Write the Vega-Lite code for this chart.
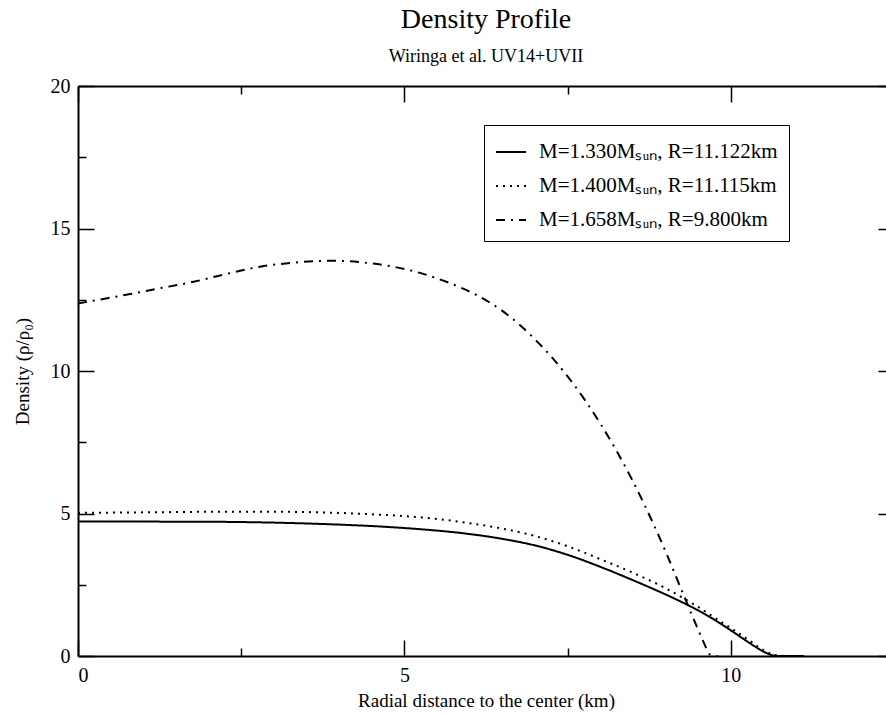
{
  "$schema": "https://vega.github.io/schema/vega-lite/v6.json",
  "autosize": "none",
  "width": 816,
  "height": 570,
  "padding": {"left": 78, "top": 86, "right": 0, "bottom": 59},
  "background": "white",
  "config": {
    "view": {"stroke": null},
    "font": "Liberation Serif",
    "axis": {
      "domainColor": "black",
      "domainWidth": 2,
      "tickColor": "black",
      "tickWidth": 1.5,
      "grid": false,
      "labelFont": "Liberation Serif",
      "labelFontSize": 20,
      "labelColor": "black",
      "titleFont": "Liberation Serif",
      "titleFontSize": 19,
      "titleFontWeight": "normal",
      "titleColor": "black"
    }
  },
  "title": {
    "text": "Density Profile",
    "subtitle": "Wiringa et al. UV14+UVII",
    "frame": "group",
    "anchor": "middle",
    "font": "Liberation Serif",
    "fontSize": 28,
    "fontWeight": "normal",
    "subtitleFont": "Liberation Serif",
    "subtitleFontSize": 18,
    "subtitlePadding": 14,
    "offset": 10,
    "color": "black",
    "subtitleColor": "black"
  },
  "data": {
    "values": [
      {"model": "M=1.330Mₛᵤₙ, R=11.122km", "r": 0, "rho": 4.72},
      {"model": "M=1.330Mₛᵤₙ, R=11.122km", "r": 0.5, "rho": 4.72},
      {"model": "M=1.330Mₛᵤₙ, R=11.122km", "r": 1, "rho": 4.72},
      {"model": "M=1.330Mₛᵤₙ, R=11.122km", "r": 1.5, "rho": 4.71},
      {"model": "M=1.330Mₛᵤₙ, R=11.122km", "r": 2, "rho": 4.71},
      {"model": "M=1.330Mₛᵤₙ, R=11.122km", "r": 2.5, "rho": 4.70},
      {"model": "M=1.330Mₛᵤₙ, R=11.122km", "r": 3, "rho": 4.68},
      {"model": "M=1.330Mₛᵤₙ, R=11.122km", "r": 3.5, "rho": 4.65},
      {"model": "M=1.330Mₛᵤₙ, R=11.122km", "r": 4, "rho": 4.61},
      {"model": "M=1.330Mₛᵤₙ, R=11.122km", "r": 4.5, "rho": 4.56},
      {"model": "M=1.330Mₛᵤₙ, R=11.122km", "r": 5, "rho": 4.49},
      {"model": "M=1.330Mₛᵤₙ, R=11.122km", "r": 5.5, "rho": 4.40},
      {"model": "M=1.330Mₛᵤₙ, R=11.122km", "r": 6, "rho": 4.28},
      {"model": "M=1.330Mₛᵤₙ, R=11.122km", "r": 6.5, "rho": 4.11},
      {"model": "M=1.330Mₛᵤₙ, R=11.122km", "r": 7, "rho": 3.88},
      {"model": "M=1.330Mₛᵤₙ, R=11.122km", "r": 7.5, "rho": 3.55},
      {"model": "M=1.330Mₛᵤₙ, R=11.122km", "r": 8, "rho": 3.13},
      {"model": "M=1.330Mₛᵤₙ, R=11.122km", "r": 8.5, "rho": 2.66},
      {"model": "M=1.330Mₛᵤₙ, R=11.122km", "r": 9, "rho": 2.16},
      {"model": "M=1.330Mₛᵤₙ, R=11.122km", "r": 9.34, "rho": 1.79},
      {"model": "M=1.330Mₛᵤₙ, R=11.122km", "r": 9.5, "rho": 1.60},
      {"model": "M=1.330Mₛᵤₙ, R=11.122km", "r": 9.75, "rho": 1.27},
      {"model": "M=1.330Mₛᵤₙ, R=11.122km", "r": 10, "rho": 0.90},
      {"model": "M=1.330Mₛᵤₙ, R=11.122km", "r": 10.2, "rho": 0.59},
      {"model": "M=1.330Mₛᵤₙ, R=11.122km", "r": 10.4, "rho": 0.29},
      {"model": "M=1.330Mₛᵤₙ, R=11.122km", "r": 10.55, "rho": 0.10},
      {"model": "M=1.330Mₛᵤₙ, R=11.122km", "r": 10.65, "rho": 0.02},
      {"model": "M=1.330Mₛᵤₙ, R=11.122km", "r": 10.75, "rho": 0.0},
      {"model": "M=1.330Mₛᵤₙ, R=11.122km", "r": 10.9, "rho": 0.0},
      {"model": "M=1.330Mₛᵤₙ, R=11.122km", "r": 11.122, "rho": 0.0},
      {"model": "M=1.400Mₛᵤₙ, R=11.115km", "r": 0, "rho": 5.02},
      {"model": "M=1.400Mₛᵤₙ, R=11.115km", "r": 0.5, "rho": 5.03},
      {"model": "M=1.400Mₛᵤₙ, R=11.115km", "r": 1, "rho": 5.04},
      {"model": "M=1.400Mₛᵤₙ, R=11.115km", "r": 1.5, "rho": 5.05},
      {"model": "M=1.400Mₛᵤₙ, R=11.115km", "r": 2, "rho": 5.06},
      {"model": "M=1.400Mₛᵤₙ, R=11.115km", "r": 2.5, "rho": 5.06},
      {"model": "M=1.400Mₛᵤₙ, R=11.115km", "r": 3, "rho": 5.06},
      {"model": "M=1.400Mₛᵤₙ, R=11.115km", "r": 3.5, "rho": 5.05},
      {"model": "M=1.400Mₛᵤₙ, R=11.115km", "r": 4, "rho": 5.02},
      {"model": "M=1.400Mₛᵤₙ, R=11.115km", "r": 4.5, "rho": 4.97},
      {"model": "M=1.400Mₛᵤₙ, R=11.115km", "r": 5, "rho": 4.91},
      {"model": "M=1.400Mₛᵤₙ, R=11.115km", "r": 5.5, "rho": 4.81},
      {"model": "M=1.400Mₛᵤₙ, R=11.115km", "r": 6, "rho": 4.66},
      {"model": "M=1.400Mₛᵤₙ, R=11.115km", "r": 6.5, "rho": 4.47},
      {"model": "M=1.400Mₛᵤₙ, R=11.115km", "r": 7, "rho": 4.21},
      {"model": "M=1.400Mₛᵤₙ, R=11.115km", "r": 7.5, "rho": 3.85},
      {"model": "M=1.400Mₛᵤₙ, R=11.115km", "r": 8, "rho": 3.40},
      {"model": "M=1.400Mₛᵤₙ, R=11.115km", "r": 8.5, "rho": 2.92},
      {"model": "M=1.400Mₛᵤₙ, R=11.115km", "r": 9, "rho": 2.38},
      {"model": "M=1.400Mₛᵤₙ, R=11.115km", "r": 9.37, "rho": 1.90},
      {"model": "M=1.400Mₛᵤₙ, R=11.115km", "r": 9.5, "rho": 1.72},
      {"model": "M=1.400Mₛᵤₙ, R=11.115km", "r": 9.78, "rho": 1.30},
      {"model": "M=1.400Mₛᵤₙ, R=11.115km", "r": 10, "rho": 0.98},
      {"model": "M=1.400Mₛᵤₙ, R=11.115km", "r": 10.14, "rho": 0.77},
      {"model": "M=1.400Mₛᵤₙ, R=11.115km", "r": 10.3, "rho": 0.52},
      {"model": "M=1.400Mₛᵤₙ, R=11.115km", "r": 10.44, "rho": 0.29},
      {"model": "M=1.400Mₛᵤₙ, R=11.115km", "r": 10.6, "rho": 0.09},
      {"model": "M=1.400Mₛᵤₙ, R=11.115km", "r": 10.75, "rho": 0.01},
      {"model": "M=1.400Mₛᵤₙ, R=11.115km", "r": 10.9, "rho": 0.0},
      {"model": "M=1.400Mₛᵤₙ, R=11.115km", "r": 11.115, "rho": 0.0},
      {"model": "M=1.658Mₛᵤₙ, R=9.800km", "r": 0, "rho": 12.37},
      {"model": "M=1.658Mₛᵤₙ, R=9.800km", "r": 0.39, "rho": 12.53},
      {"model": "M=1.658Mₛᵤₙ, R=9.800km", "r": 0.8, "rho": 12.70},
      {"model": "M=1.658Mₛᵤₙ, R=9.800km", "r": 1.2, "rho": 12.88},
      {"model": "M=1.658Mₛᵤₙ, R=9.800km", "r": 1.77, "rho": 13.13},
      {"model": "M=1.658Mₛᵤₙ, R=9.800km", "r": 2.3, "rho": 13.42},
      {"model": "M=1.658Mₛᵤₙ, R=9.800km", "r": 2.79, "rho": 13.66},
      {"model": "M=1.658Mₛᵤₙ, R=9.800km", "r": 3.3, "rho": 13.80},
      {"model": "M=1.658Mₛᵤₙ, R=9.800km", "r": 3.9, "rho": 13.87},
      {"model": "M=1.658Mₛᵤₙ, R=9.800km", "r": 4.4, "rho": 13.80},
      {"model": "M=1.658Mₛᵤₙ, R=9.800km", "r": 4.83, "rho": 13.66},
      {"model": "M=1.658Mₛᵤₙ, R=9.800km", "r": 5.3, "rho": 13.40},
      {"model": "M=1.658Mₛᵤₙ, R=9.800km", "r": 5.7, "rho": 13.08},
      {"model": "M=1.658Mₛᵤₙ, R=9.800km", "r": 6.1, "rho": 12.67},
      {"model": "M=1.658Mₛᵤₙ, R=9.800km", "r": 6.5, "rho": 12.11},
      {"model": "M=1.658Mₛᵤₙ, R=9.800km", "r": 7, "rho": 11.11},
      {"model": "M=1.658Mₛᵤₙ, R=9.800km", "r": 7.5, "rho": 9.81},
      {"model": "M=1.658Mₛᵤₙ, R=9.800km", "r": 8, "rho": 8.16},
      {"model": "M=1.658Mₛᵤₙ, R=9.800km", "r": 8.48, "rho": 6.22},
      {"model": "M=1.658Mₛᵤₙ, R=9.800km", "r": 8.9, "rho": 4.20},
      {"model": "M=1.658Mₛᵤₙ, R=9.800km", "r": 9.34, "rho": 1.79},
      {"model": "M=1.658Mₛᵤₙ, R=9.800km", "r": 9.5, "rho": 0.92},
      {"model": "M=1.658Mₛᵤₙ, R=9.800km", "r": 9.6, "rho": 0.40},
      {"model": "M=1.658Mₛᵤₙ, R=9.800km", "r": 9.68, "rho": 0.05},
      {"model": "M=1.658Mₛᵤₙ, R=9.800km", "r": 9.8, "rho": 0.0}
    ]
  },
  "layer": [
    {
      "mark": {"type": "line", "color": "black", "strokeWidth": 2, "interpolate": "monotone", "clip": true},
      "encoding": {
        "x": {
          "field": "r", "type": "quantitative",
          "scale": {"domain": [0, 12.5], "nice": false},
          "title": "Radial distance to the center (km)",
          "axis": {
            "orient": "bottom",
            "values": [0, 2.5, 5, 7.5, 10, 12.5],
            "labelExpr": "datum.value % 5 === 0 ? datum.label : ''",
            "tickSize": {"condition": {"test": "datum.value % 5 === 0", "value": -16}, "value": -8},
            "labelPadding": 25,
            "titlePadding": 6
          }
        },
        "y": {
          "field": "rho", "type": "quantitative",
          "scale": {"domain": [0, 20], "nice": false},
          "title": "Density (ρ/ρ₀)",
          "axis": {
            "orient": "left",
            "values": [0, 2.5, 5, 7.5, 10, 12.5, 15, 17.5, 20],
            "labelExpr": "datum.value % 5 === 0 ? datum.label : ''",
            "tickSize": {"condition": {"test": "datum.value % 5 === 0", "value": -16}, "value": -8},
            "labelPadding": 24,
            "titlePadding": 18
          }
        },
        "strokeDash": {
          "field": "model", "type": "nominal",
          "scale": {
            "domain": ["M=1.330Mₛᵤₙ, R=11.122km", "M=1.400Mₛᵤₙ, R=11.115km", "M=1.658Mₛᵤₙ, R=9.800km"],
            "range": [[1, 0], [2, 5], [9, 6, 2, 6]]
          },
          "legend": {
            "title": null,
            "orient": "none",
            "legendX": 406,
            "legendY": 39,
            "direction": "vertical",
            "strokeColor": "black",
            "fillColor": "white",
            "padding": 11,
            "symbolType": "stroke",
            "symbolSize": 900,
            "symbolStrokeWidth": 2,
            "symbolStrokeColor": "black",
            "labelFont": "Liberation Serif",
            "labelFontSize": 21,
            "labelColor": "black",
            "labelOffset": 12,
            "rowPadding": 8,
            "labelLimit": 400
          }
        }
      }
    },
    {
      "mark": {"type": "line", "opacity": 0},
      "encoding": {
        "x": {
          "field": "r", "type": "quantitative",
          "axis": {
            "orient": "top",
            "title": null,
            "labels": false,
            "values": [0, 2.5, 5, 7.5, 10, 12.5],
            "tickSize": {"condition": {"test": "datum.value % 5 === 0", "value": -16}, "value": -8}
          }
        },
        "y": {
          "field": "rho", "type": "quantitative",
          "axis": {
            "orient": "right",
            "title": null,
            "labels": false,
            "values": [0, 2.5, 5, 7.5, 10, 12.5, 15, 17.5, 20],
            "tickSize": {"condition": {"test": "datum.value % 5 === 0", "value": -16}, "value": -8}
          }
        },
        "detail": {"field": "model", "type": "nominal"}
      }
    }
  ]
}
